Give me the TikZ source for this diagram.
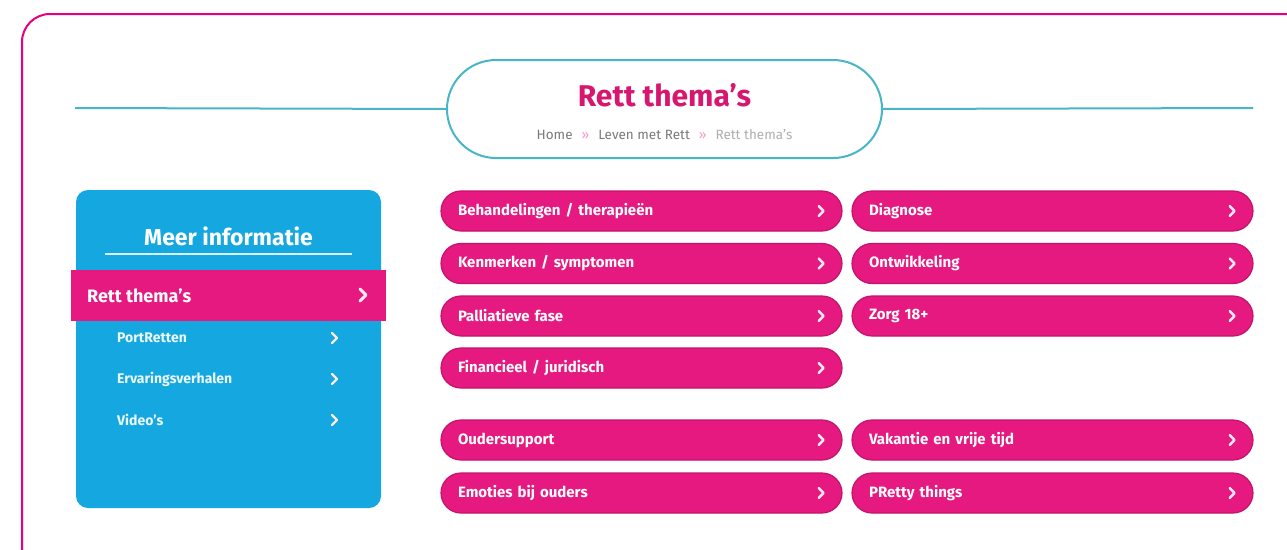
\documentclass[tikz,border=0pt]{standalone}
\usepackage{fontspec}
\setmainfont{Fira Sans}
\usetikzlibrary{positioning}

\definecolor{framepink}{HTML}{E6007E}
\definecolor{pillpink}{HTML}{E5197F}
\definecolor{pilldark}{HTML}{C4136C}
\definecolor{titlepink}{HTML}{D6166F}
\definecolor{lineteal}{HTML}{48B6C6}
\definecolor{panelblue}{HTML}{15A8E0}
\definecolor{crumbgray}{HTML}{7A7A7A}

\newcommand{\fs}[1]{\fontsize{#1}{#1}\selectfont}

\begin{document}
\begin{tikzpicture}[x=1pt,y=-1pt]
        \tikzstyle{pill}=[draw=pilldark, line width=1.2pt, fill=pillpink, rounded corners=20pt, minimum width=401pt, minimum height=40pt, text width=367pt, inner xsep=17pt, inner ysep=0pt, align=left, text=white, font=\bfseries\fs{15}]
        \tikzstyle{subitem}=[anchor=west, inner sep=0pt, text=white!92!panelblue, font=\bfseries\fs{14}]
        \tikzstyle{chev}=[white!90!pillpink, line width=2.4pt, line cap=round, line join=round]

        \useasboundingbox (0,0) rectangle (1287,549);
        \fill[white] (0,0) rectangle (1287,549);

        % frame
        \draw[framepink, line width=2pt, rounded corners=28pt] (22,590) -- (22,14) -- (1312,14) -- (1312,590);

        % page title
        \node   (title) [draw=lineteal, line width=2pt, rounded corners=49pt, minimum width=435pt, minimum height=98pt] at (664.5,109) {};
        \coordinate (lineL) at (75,108);
        \coordinate (lineR) at (1253,108);
        \draw[lineteal, line width=2pt] (lineL) -- (title.west);
        \draw[lineteal, line width=2pt] (title.east) -- (lineR);
        \node   (ttext) [text=titlepink, font=\bfseries\fs{30}] at (664.5,95) {Rett thema’s};
        \node   (crumb) [font=\fs{13.5}] at (664.5,134) {\textcolor{crumbgray}{Home}\hspace{9pt}\textcolor{framepink!40}{»}\hspace{9pt}\textcolor{crumbgray}{Leven met Rett}\hspace{9pt}\textcolor{framepink!40}{»}\hspace{9pt}\textcolor{crumbgray!60}{Rett thema’s}};

        % side panel
        \node   (panel) [fill=panelblue, rounded corners=12pt, minimum width=305pt, minimum height=318pt] at (228.5,349) {};
        \node   (head)  [text=white, font=\bfseries\fs{23}] at (228.5,236) {Meer informatie};
        \draw[white!85!panelblue, line width=1.2pt] (105,254) -- (352,254);
        \node   (cur)   [fill=pillpink, minimum width=315pt, minimum height=51pt] at (228.5,295.5) {};
        \node   (curt)  [anchor=west, inner sep=0pt, text=white, font=\bfseries\fs{18}] at (87,296) {Rett thema’s};
        \draw[chev, line width=3pt] (360,289) -- (366,295) -- (360,301);
        \node   (s1) [subitem] at (117,338) {PortRetten};
        \node   (s2) [subitem] at (117,379) {Ervaringsverhalen};
        \node   (s3) [subitem] at (117,420) {Video’s};
        \coordinate (subchev) at (332,0);
        \foreach \s in {s1,s2,s3}
            \draw[chev] (subchev |- \s.center) ++(0,-5) -- ++(5,5) -- ++(-5,5);

        % theme buttons
        \node   (b1) [pill] at (641.5,211)   {Behandelingen / therapieën};
        \node   (b2) [pill] at (641.5,263.5) {Kenmerken / symptomen};
        \node   (b3) [pill] at (641.5,316)   {Palliatieve fase};
        \node   (b4) [pill] at (641.5,368)   {Financieel / juridisch};
        \node   (b5) [pill] at (641.5,440)   {Oudersupport};
        \node   (b6) [pill] at (641.5,493)   {Emoties bij ouders};
        \node   (c1) [pill] at (1052.5,211)   {Diagnose};
        \node   (c2) [pill] at (1052.5,263.5) {Ontwikkeling};
        \node   (c3) [pill] at (1052.5,316)   {Zorg 18+};
        \node   (c5) [pill] at (1052.5,440)   {Vakantie en vrije tijd};
        \node   (c6) [pill] at (1052.5,493)   {PRetty things};

        \foreach \p in {b1,b2,b3,b4,b5,b6,c1,c2,c3,c5,c6}
            \draw[chev] ([xshift=-24pt]\p.east) ++(0,-5) -- ++(5,5) -- ++(-5,5);

    \end{tikzpicture}
\end{document}
